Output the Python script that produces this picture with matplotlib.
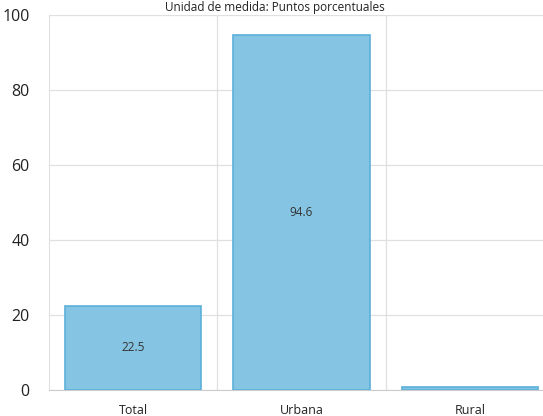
import matplotlib
matplotlib.use("Agg")
import matplotlib.pyplot as plt
import numpy as np

plt.rcParams['font.family'] = ['Open Sans', 'DejaVu Sans']

categorias = ["Total", "Urbana", "Rural"]
valores = [22.5, 94.6, 0.9]
etiquetas = ["22.5", "94.6", ""]
y_ticks = [0, 20, 40, 60, 80, 100]

fig = plt.figure(figsize=(5.43, 4.16), dpi=100)
ax = fig.add_axes([49 / 543, 26 / 416, 505 / 543, 375 / 416])

x = np.arange(len(categorias))
ax.bar(x, valores, width=0.81, color="#85C4E3", edgecolor="#5BB0DA", linewidth=1.2, zorder=3)

for xi, v, lab in zip(x, valores, etiquetas):
    if lab:
        ax.text(xi, v / 2, lab, ha="center", va="center", fontsize=8.5, color="#333333", zorder=4)

ax.set_xlim(-0.5, len(categorias) - 0.5)
ax.set_ylim(0, 100)
ax.set_yticks(y_ticks)
ax.set_yticklabels([str(t) for t in y_ticks], fontsize=11.5, color="#222222")
ax.set_xticks(x)
ax.set_xticklabels(categorias, fontsize=9, color="#222222")
ax.tick_params(axis="x", length=0, pad=10)
ax.tick_params(axis="y", length=0, pad=14)

# lineas de la grilla
ax.grid(axis="y", color="#e0e0e0", linewidth=0.9, zorder=0)
for b in [0.5, 1.5]:
    ax.axvline(b, color="#e0e0e0", linewidth=0.9, zorder=0)

for s in ["top", "right"]:
    ax.spines[s].set_visible(False)
ax.spines["left"].set_color("#e0e0e0")
ax.spines["bottom"].set_color("#cccccc")

fig.text(275 / 543, 1 - 1 / 416, "Unidad de medida: Puntos porcentuales",
         ha="center", va="top", fontsize=8.5, color="#222222")

fig.savefig("out.png", dpi=100)
